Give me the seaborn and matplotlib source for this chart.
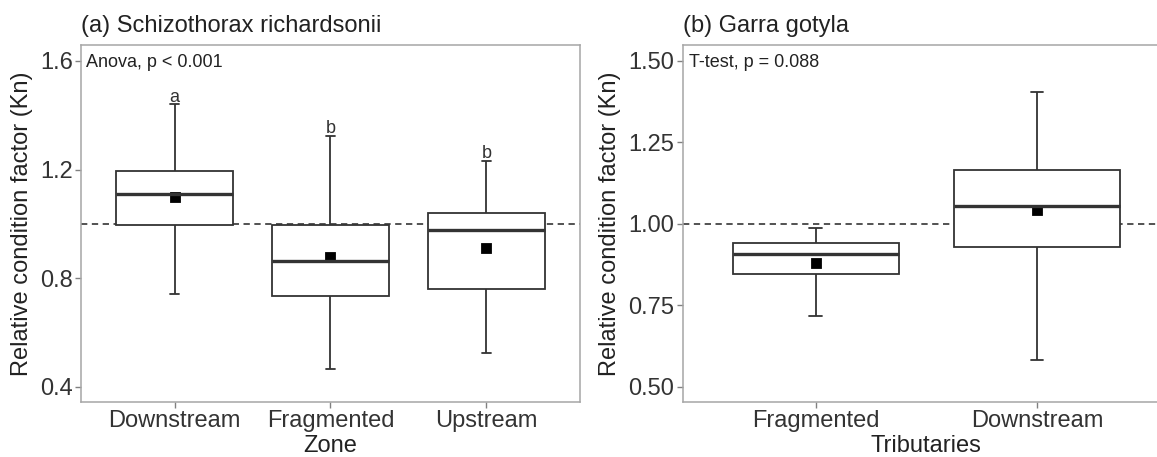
import pandas as pd
import seaborn as sns
import numpy as np
import matplotlib.pyplot as plt


# Five-number summaries: [min, q1, median, q3, max]
sr_groups = ['Downstream', 'Fragmented', 'Upstream']
sr_tick_labels = ['Downstream', 'Fragmented', 'Upstream']
sr_lo = [0.741, 0.465, 0.525]
sr_q1 = [0.995, 0.734, 0.761]
sr_med = [1.109, 0.865, 0.977]
sr_q3 = [1.195, 0.998, 1.041]
sr_hi = [1.442, 1.325, 1.233]
sr_mean = [1.100, 0.879, 0.910]
sr_letters = ['a', 'b', 'b']

gg_groups = ['Fragmented', 'Downstream']
gg_lo = [0.717, 0.581]
gg_q1 = [0.846, 0.928]
gg_med = [0.907, 1.056]
gg_q3 = [0.941, 1.166]
gg_hi = [0.988, 1.404]
gg_mean = [0.879, 1.043]


def five_num_frame(groups, lo, q1, med, q3, hi):
    # 5 points per group -> quartiles fall exactly on the given values
    rows = []
    for g, a, b, c, d, e in zip(groups, lo, q1, med, q3, hi):
        for v in (a, b, c, d, e):
            rows.append({'group': g, 'kn': v})
    return pd.DataFrame(rows)


sr_df = five_num_frame(sr_groups, sr_lo, sr_q1, sr_med, sr_q3, sr_hi)
gg_df = five_num_frame(gg_groups, gg_lo, gg_q1, gg_med, gg_q3, gg_hi)

sns.set_style('white')
plt.rcParams['font.family'] = ['Liberation Sans', 'DejaVu Sans']

line_col = '#333333'
frame_col = '#a6a6a6'
fs = 17

fig = plt.figure(figsize=(11.57, 4.57), dpi=100)
ax1 = fig.add_axes([0.0700, 0.1193, 0.4313, 0.7823])
ax2 = fig.add_axes([0.5901, 0.1193, 0.4209, 0.7823])


def draw_panel(ax, df, order, means):
    sns.boxplot(data=df, x='group', y='kn', order=order, ax=ax, whis=(0, 100),
                width=0.75, color='white', linecolor=line_col, linewidth=1.3,
                showfliers=False, capwidths=0.055,
                medianprops={'linewidth': 2.4, 'color': line_col})
    sns.pointplot(x=order, y=means, order=order, ax=ax, linestyle='none',
                  marker='s', markersize=6, color='black', errorbar=None)
    ax.axhline(1.0, color='#444444', linewidth=1.3, linestyle=(0, (3.5, 2.5)), zorder=0.5)
    ax.set_xlim(-0.6, len(order) - 0.4)
    for s in ax.spines.values():
        s.set_visible(True)
        s.set_color(frame_col)
        s.set_linewidth(1.1)
    ax.tick_params(axis='both', which='both', direction='out', length=4, width=1.0,
                   color='#808080', labelsize=fs, labelcolor='#333333',
                   left=True, bottom=True)
    ax.tick_params(axis='x', pad=1.5)
    ax.tick_params(axis='y', pad=2)
    ax.set_ylabel('Relative condition factor (Kn)', fontsize=fs, color='#222222', labelpad=5)


# (a) Schizothorax richardsonii
draw_panel(ax1, sr_df, sr_groups, sr_mean)
ax1.set_ylim(0.343, 1.659)
ax1.set_yticks([0.4, 0.8, 1.2, 1.6])
ax1.set_yticklabels(['0.4', '0.8', '1.2', '1.6'])
ax1.set_xticks(range(len(sr_groups)))
ax1.set_xticklabels(sr_tick_labels)
ax1.set_xlabel('Zone', fontsize=fs, color='#222222', labelpad=2)
ax1.set_title('(a) Schizothorax richardsonii', loc='left', fontsize=fs, color='#222222', pad=9)
ax1.text(0.01, 0.95, 'Anova, p < 0.001', transform=ax1.transAxes, ha='left', va='center',
         fontsize=13, color='#222222')
for i, (lab, top) in enumerate(zip(sr_letters, sr_hi)):
    ax1.text(i, top - 0.006, lab, ha='center', va='bottom', fontsize=13, color='#333333')

# (b) Garra gotyla
draw_panel(ax2, gg_df, gg_groups, gg_mean)
ax2.set_ylim(0.452, 1.549)
ax2.set_yticks([0.5, 0.75, 1.0, 1.25, 1.5])
ax2.set_yticklabels(['0.50', '0.75', '1.00', '1.25', '1.50'])
ax2.set_xticks(range(len(gg_groups)))
ax2.set_xticklabels(gg_groups)
ax2.set_xlabel('Tributaries', fontsize=fs, color='#222222', labelpad=2)
ax2.set_title('(b) Garra gotyla', loc='left', fontsize=fs, color='#222222', pad=9)
ax2.text(0.012, 0.95, 'T-test, p = 0.088', transform=ax2.transAxes, ha='left', va='center',
         fontsize=13, color='#222222')

fig.savefig('out.png', dpi=100)
